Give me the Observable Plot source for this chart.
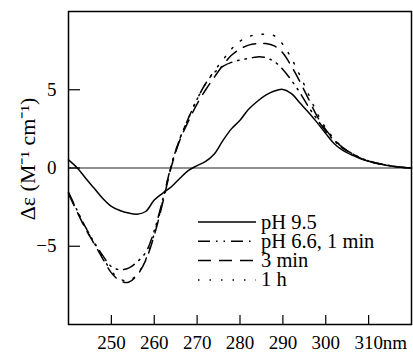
<!DOCTYPE html>
<html>
<head>
<meta charset="utf-8">
<script src="https://cdn.jsdelivr.net/npm/d3@7"></script>
<script src="https://cdn.jsdelivr.net/npm/@observablehq/plot@0.6"></script>
<style>
  html, body { margin: 0; padding: 0; background: #fff; }
  #chart { position: relative; width: 413px; height: 352px; }
  #legend { position: absolute; left: 0; top: 0; pointer-events: none; }
</style>
</head>
<body>
<div id="chart"></div>
<script>
// Wavelength grid (nm)
const wavelengths = [240,242,244,246,248,250,252,254,256,258,260,262,264,266,268,270,272,274,276,278,280,282,284,286,288,290,292,294,296,298,300,302,304,306,308,310,312,314,316,318,320];
// Δε values (M^-1 cm^-1)
const ph95   = [0.52,0.02,-0.65,-1.3,-1.95,-2.45,-2.72,-2.88,-2.95,-2.78,-2.05,-1.6,-1.2,-0.65,-0.15,0.15,0.42,0.9,1.75,2.5,3.05,3.75,4.25,4.65,4.92,5.02,4.75,4.15,3.55,2.9,2.2,1.55,1.12,0.85,0.6,0.43,0.28,0.17,0.09,0.03,0];
const min1   = [-1.55,-2.7,-3.8,-4.75,-5.6,-6.3,-6.5,-6.4,-6.0,-5.4,-4.0,-2.0,0.2,1.9,3.2,4.4,5.4,6.1,6.5,6.75,6.9,7.0,7.1,7.05,6.8,6.3,5.6,4.8,3.9,3.1,2.35,1.75,1.25,0.95,0.65,0.45,0.3,0.2,0.1,0.04,0];
const min3   = [-1.65,-2.8,-3.9,-4.85,-5.8,-6.7,-7.2,-7.3,-6.85,-5.9,-4.3,-2.2,0.1,1.8,3.0,4.1,5.0,5.8,6.55,7.2,7.6,7.85,7.95,7.95,7.8,7.35,6.5,5.5,4.4,3.3,2.45,1.8,1.3,0.95,0.65,0.45,0.3,0.2,0.1,0.04,0];
const hour1  = [-1.6,-2.75,-3.85,-4.8,-5.7,-6.6,-7.1,-7.2,-6.8,-5.85,-4.2,-2.1,0.2,1.9,3.2,4.4,5.4,6.2,6.9,7.6,8.1,8.4,8.52,8.55,8.45,7.9,7.0,5.9,4.7,3.5,2.55,1.85,1.3,0.95,0.65,0.45,0.3,0.2,0.1,0.04,0];

const xTicks = [250,260,270,280,290,300,310];
const yTicks = [-5,0,5];

const seriesNames = ["pH 9.5","pH 6.6, 1 min","3 min","1 h"];
const seriesValues = [ph95, min1, min3, hour1];
const dashes = [null, "12,6,1.5,6,1.5,6", "13,8", "1.5,10"];

const tables = seriesValues.map((vals, i) =>
  wavelengths.map((w, j) => ({wl: w, de: vals[j], series: seriesNames[i]})));

const font = "'Liberation Serif', 'Times New Roman', serif";

const plot = Plot.plot({
  width: 413,
  height: 352,
  marginLeft: 68,
  marginRight: 2,
  marginTop: 11,
  marginBottom: 28,
  style: {fontFamily: font, fontSize: "19px", background: "#fff", color: "#000"},
  x: {domain: [240, 320]},
  y: {domain: [-10, 10]},
  marks: [
    Plot.ruleY([0], {stroke: "#222", strokeWidth: 1.2}),
    Plot.axisX(xTicks, {tickSize: -9, tickFormat: () => "", strokeWidth: 1.2, label: null}),
    Plot.axisX(xTicks, {tickSize: 0, tickPadding: 11, label: null, fontSize: 19}),
    Plot.text(["nm"], {x: [310], frameAnchor: "bottom", lineAnchor: "top", dy: 11, dx: 14, textAnchor: "start", fontSize: 19}),
    Plot.axisY(yTicks, {tickSize: -12, tickFormat: () => "", strokeWidth: 1.2, label: null}),
    Plot.axisY(yTicks, {tickSize: 0, tickPadding: 12, label: null, fontSize: 19}),
    Plot.text(["Δε (M⁻¹ cm⁻¹)"], {frameAnchor: "left", textAnchor: "middle", rotate: -90, dx: -41, dy: -9, fontSize: 22}),
    ...tables.map((t, i) => Plot.line(t, {
      x: "wl", y: "de", curve: "catmull-rom",
      stroke: "#000", strokeWidth: 1.5,
      strokeDasharray: dashes[i]
    })),
    Plot.frame({stroke: "#000", strokeWidth: 1.5})
  ]
});

const chart = document.getElementById("chart");
chart.appendChild(plot);

// Legend overlay
const legendX0 = 198, legendX1 = 256, textX = 261, rowY0 = 222, rowStep = 19.3;
const lg = d3.select(chart).append("svg")
  .attr("id", "legend")
  .attr("width", 413).attr("height", 352);
seriesNames.forEach((name, i) => {
  const y = rowY0 + i * rowStep;
  lg.append("line")
    .attr("x1", legendX0).attr("x2", legendX1)
    .attr("y1", y).attr("y2", y)
    .attr("stroke", "#000").attr("stroke-width", 1.5)
    .attr("stroke-dasharray", dashes[i]);
  lg.append("text")
    .attr("x", textX).attr("y", y + 6.5)
    .attr("font-family", font).attr("font-size", 20.5)
    .attr("fill", "#000")
    .text(name);
});
</script>
</body>
</html>
